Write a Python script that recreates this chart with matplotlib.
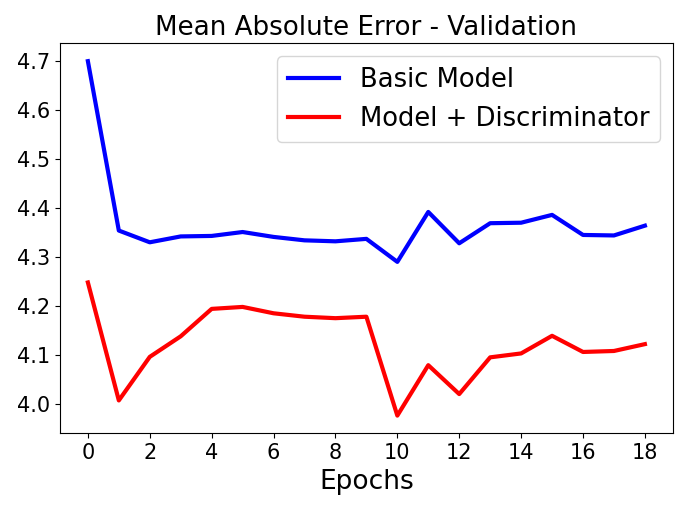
import matplotlib
matplotlib.use("Agg")
import matplotlib.pyplot as plt

epochs = list(range(19))
basic_model = [4.700, 4.354, 4.330, 4.342, 4.343, 4.351, 4.341, 4.334, 4.332, 4.337,
               4.290, 4.392, 4.328, 4.369, 4.370, 4.386, 4.345, 4.344, 4.364]
model_disc = [4.248, 4.007, 4.096, 4.138, 4.194, 4.198, 4.185, 4.178, 4.175, 4.178,
              3.976, 4.079, 4.020, 4.095, 4.103, 4.139, 4.106, 4.108, 4.122]

plt.figure(figsize=(6.9, 5.11), dpi=100)
plt.plot(epochs, basic_model, color="blue", linewidth=3, label="Basic Model")
plt.plot(epochs, model_disc, color="red", linewidth=3, label="Model + Discriminator")
plt.title("Mean Absolute Error - Validation", fontsize=18.8)
plt.xlabel("Epochs", fontsize=19)
plt.xticks(range(0, 19, 2), fontsize=15)
plt.yticks(fontsize=15)
plt.legend(fontsize=18.6, loc="upper right")
plt.subplots_adjust(left=0.087, right=0.975, top=0.915, bottom=0.152)
plt.savefig("out.png")
